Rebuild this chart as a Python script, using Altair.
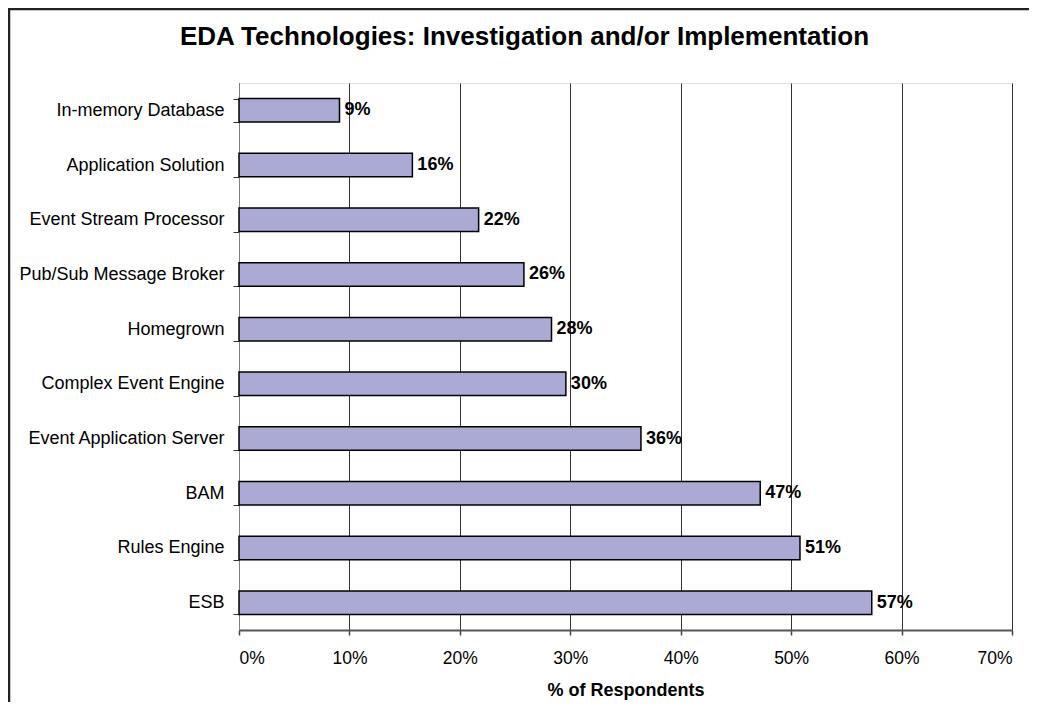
import altair as alt
import pandas as pd

# ---- data ----
categories = [
    "In-memory Database",
    "Application Solution",
    "Event Stream Processor",
    "Pub/Sub Message Broker",
    "Homegrown",
    "Complex Event Engine",
    "Event Application Server",
    "BAM",
    "Rules Engine",
    "ESB",
]
values = [0.091, 0.157, 0.217, 0.258, 0.283, 0.296, 0.364, 0.472, 0.508, 0.573]
value_labels = ["9%", "16%", "22%", "26%", "28%", "30%", "36%", "47%", "51%", "57%"]
x_ticks = [0.0, 0.1, 0.2, 0.3, 0.4, 0.5, 0.6, 0.7]

df = pd.DataFrame({"tech": categories, "share": values, "label": value_labels})

FONT = "Liberation Sans"
W, H = 773, 547
PAD = {"left": 231, "top": 75, "right": 17, "bottom": 72}

y_enc = alt.Y(
    "tech:N",
    sort=categories,
    title=None,
    scale=alt.Scale(paddingInner=0.57, paddingOuter=0.285),
    axis=alt.Axis(
        labelFont=FONT,
        labelFontSize=18,
        labelColor="black",
        labelLimit=400,
        labelPadding=9,
        tickSize=6,
        tickColor="#333333",
        tickWidth=1,
        tickBand="extent",
        domainColor="#808080",
        domainWidth=1,
        grid=False,
    ),
)

x_enc = alt.X(
    "share:Q",
    scale=alt.Scale(domain=[0, 0.7], nice=False, zero=True),
    axis=alt.Axis(
        values=x_ticks,
        format=".0%",
        title="% of Respondents",
        labelFont=FONT,
        labelFontSize=17.5,
        labelColor="black",
        labelPadding=14,
        tickSize=5,
        tickColor="#444444",
        tickWidth=1.5,
        domainColor="#555555",
        domainWidth=2,
        grid=True,
        gridColor="#333333",
        gridWidth=1,
        titleFont=FONT,
        titleFontSize=18,
        titleFontWeight="bold",
        titleColor="black",
        titlePadding=15,
    ),
)

base = alt.Chart(df)

bars = base.mark_bar(fill="#AAAAD5", stroke="black", strokeWidth=1.5).encode(
    x=x_enc, y=y_enc
)

text = base.mark_text(
    align="left",
    baseline="middle",
    dx=5,
    font=FONT,
    fontSize=18,
    fontWeight="bold",
    color="black",
).encode(x=alt.X("share:Q"), y=alt.Y("tech:N", sort=categories), text="label:N")

frame_data = alt.Data(values=[{}])
left_border = alt.Chart(frame_data).mark_rule(color="#222222", strokeWidth=2.5).encode(
    x=alt.value(-230), y=alt.value(-74), y2=alt.value(H + PAD["bottom"])
)
top_border = alt.Chart(frame_data).mark_rule(color="#222222", strokeWidth=2.5).encode(
    y=alt.value(-74), x=alt.value(-231), x2=alt.value(W + PAD["right"])
)

chart = (
    alt.layer(bars, text, left_border, top_border)
    .properties(
        width=W,
        height=H,
        autosize="none",
        padding=PAD,
        title=alt.TitleParams(
            text="EDA Technologies: Investigation and/or Implementation",
            font=FONT,
            fontSize=26,
            fontWeight="bold",
            color="black",
            anchor="middle",
            frame="group",
            dx=-101,
            offset=-63,
            baseline="alphabetic",
        ),
    )
    .configure_view(fill="#CCCCCC", stroke="#808080", strokeWidth=1)
    .configure(background="white")
)

chart.save("out.html", embed_options={"renderer": "svg", "actions": False})
